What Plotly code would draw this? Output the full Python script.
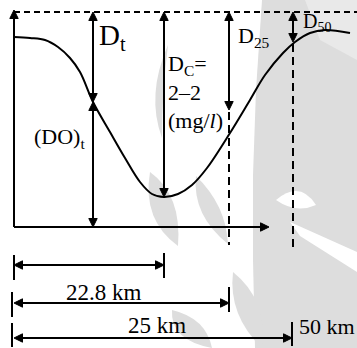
import plotly.graph_objects as go

# Dissolved-oxygen sag curve, drawn in diagram units:
# x runs downstream from the outfall, y is height above the distance axis.
curve_x = [0, 16, 31, 44, 56, 66, 79, 96, 111, 126, 138, 150,
           164, 178, 193, 216, 236, 251, 269, 281, 296, 311, 336]
curve_y = [190, 189, 187, 180, 169, 155, 125, 95, 69, 45, 33, 30,
           33, 42, 59, 94, 127, 152, 174, 185, 194, 197, 194]

saturation_y = 215          # saturation DO level (dashed line)
axis_top = 217              # tip of the DO axis
axis_right = 255            # tip of the distance axis

# sections along the river
t_pos = 79                  # arbitrary section t
t_do = 125                  # (DO)t at section t
station_km = [22.8, 25, 50]
station_labels = ["22.8 km", "25 km", "50 km"]
station_pos = [150, 215, 279]       # critical point, 25 km and 50 km sections
deficit_tip = [30, 117, 185]        # lower ends of the Dc, D25 and D50 arrows
dash_bottom = [None, -18, -21]      # lower ends of the dashed drop lines

# dimension lines below the chart
dim_y = [-38, -76, -111]
dim_tick_x = [0, -2, -2]
dim_end = [150, 215, 278]
tick_left = [(-28, -53), (-65, -90), (-96, -120)]
tick_right = [(-26, -51), (-60, -85), (-95, -119)]

FONT = "Liberation Serif"
LW = 2
HEAD_L, HEAD_W = 8.5, 4.2
X0, Y0 = 14, 227            # page position of the diagram origin
GREY = "#dddddd"

fig = go.Figure()

# the sag curve
fig.add_trace(go.Scatter(
    x=curve_x, y=curve_y, mode="lines",
    line=dict(color="black", width=LW, shape="spline", smoothing=1.0),
    hoverinfo="skip", showlegend=False))

shapes = []
annotations = []


def seg(x0, y0, x1, y1, dash="solid"):
    shapes.append(dict(type="line", xref="x", yref="y", x0=x0, y0=y0,
                       x1=x1, y1=y1, line=dict(color="black", width=LW, dash=dash)))


def head(xt, yt, ux, uy):
    """Filled arrowhead with its tip at (xt, yt), pointing along (ux, uy)."""
    bx, by = xt - HEAD_L * ux, yt - HEAD_L * uy
    px, py = -uy * HEAD_W, ux * HEAD_W
    shapes.append(dict(
        type="path", xref="x", yref="y",
        path=f"M{xt},{yt} L{bx + px},{by + py} L{bx - px},{by - py} Z",
        fillcolor="black", line=dict(color="black", width=1)))


def arrow(x0, y0, x1, y1, both=False):
    """Arrow from (x0, y0) with its head at (x1, y1)."""
    dx, dy = x1 - x0, y1 - y0
    n = (dx * dx + dy * dy) ** 0.5
    ux, uy = dx / n, dy / n
    cut = HEAD_L - 2
    sx, sy = (x0 + ux * cut, y0 + uy * cut) if both else (x0, y0)
    seg(sx, sy, x1 - ux * cut, y1 - uy * cut)
    head(x1, y1, ux, uy)
    if both:
        head(x0, y0, -ux, -uy)


def label(x, y, text, size, xanchor="left", yanchor="middle", align="left"):
    annotations.append(dict(
        x=x, y=y, xref="x", yref="y", text=text, showarrow=False,
        xanchor=xanchor, yanchor=yanchor, align=align,
        font=dict(family=FONT, size=size, color="black")))


# faint background emblem (page pixel coordinates)
def page_path(points, curve=False):
    pts = [(px - X0, Y0 - py) for px, py in points]
    if curve:
        return (f"M{pts[0][0]},{pts[0][1]} Q{pts[1][0]},{pts[1][1]} {pts[2][0]},{pts[2][1]} "
                f"Q{pts[3][0]},{pts[3][1]} {pts[0][0]},{pts[0][1]} Z")
    return "M" + " L".join(f"{x},{y}" for x, y in pts) + " Z"


def emblem(points, color=GREY, curve=False):
    shapes.append(dict(type="path", xref="x", yref="y", layer="below",
                       path=page_path(points, curve=curve),
                       fillcolor=color, line=dict(width=0)))


emblem([(262, 0), (357, 0), (357, 348), (255, 348), (253, 260), (253, 175), (256, 90)])
emblem([(290, 222), (357, 252), (357, 272), (300, 236)], color="white")
emblem([(276, 200), (300, 180), (316, 205), (296, 214)], color="white", curve=True)
emblem([(305, 0), (357, 0), (357, 60), (320, 40)], color="#e9e9e9")
emblem([(150, 172), (142, 220), (178, 246), (182, 195)], curve=True)
emblem([(196, 176), (192, 215), (228, 244), (226, 205)], curve=True)
emblem([(233, 272), (228, 315), (262, 348), (268, 300)], curve=True)
emblem([(172, 310), (170, 340), (212, 348), (206, 318)], curve=True)
emblem([(168, 45), (146, 95), (162, 138), (162, 92)], curve=True)

# axes
arrow(0, 0, 0, axis_top)
arrow(0, 0, axis_right, 0)

# saturation level
seg(0, saturation_y, 343, saturation_y, dash="6px,4px")

# deficit and DO at section t
arrow(t_pos, t_do, t_pos, saturation_y, both=True)
arrow(t_pos, 0, t_pos, t_do, both=True)

# deficits at the critical point, 25 km and 50 km
for pos, tip, bottom in zip(station_pos, deficit_tip, dash_bottom):
    arrow(pos, tip, pos, saturation_y, both=True)
    if bottom is not None:
        seg(pos, tip - 2, pos, bottom, dash="8px,5px")

# dimension lines
for i in range(3):
    arrow(0, dim_y[i], dim_end[i], dim_y[i], both=True)
    seg(dim_tick_x[i], tick_left[i][0], dim_tick_x[i], tick_left[i][1])
    seg(dim_end[i], tick_right[i][0], dim_end[i], tick_right[i][1])

# texts
label(83, 190, "D<sub>t</sub>", 29)
label(18, 89, "(DO)<sub>t</sub>", 22)
label(152, 178, "D<sub>C</sub>=<br>2–2<br>(mg/<i>l</i>)", 22, yanchor="top")
label(222, 190, "D<sub>25</sub>", 22)
label(287, 205, "D<sub>50</sub>", 20)
label(90, -65, station_labels[0], 23, xanchor="center")
label(143, -98, station_labels[1], 23, xanchor="center")
label(283, -99, station_labels[2], 22)

fig.update_layout(
    width=357, height=348,
    margin=dict(l=0, r=0, t=0, b=0),
    paper_bgcolor="white", plot_bgcolor="white",
    font=dict(family=FONT),
    xaxis=dict(range=[-14, 343], visible=False, fixedrange=True),
    yaxis=dict(range=[-121, 227], visible=False, fixedrange=True),
    shapes=shapes, annotations=annotations, showlegend=False)

fig.write_html("out.html")
